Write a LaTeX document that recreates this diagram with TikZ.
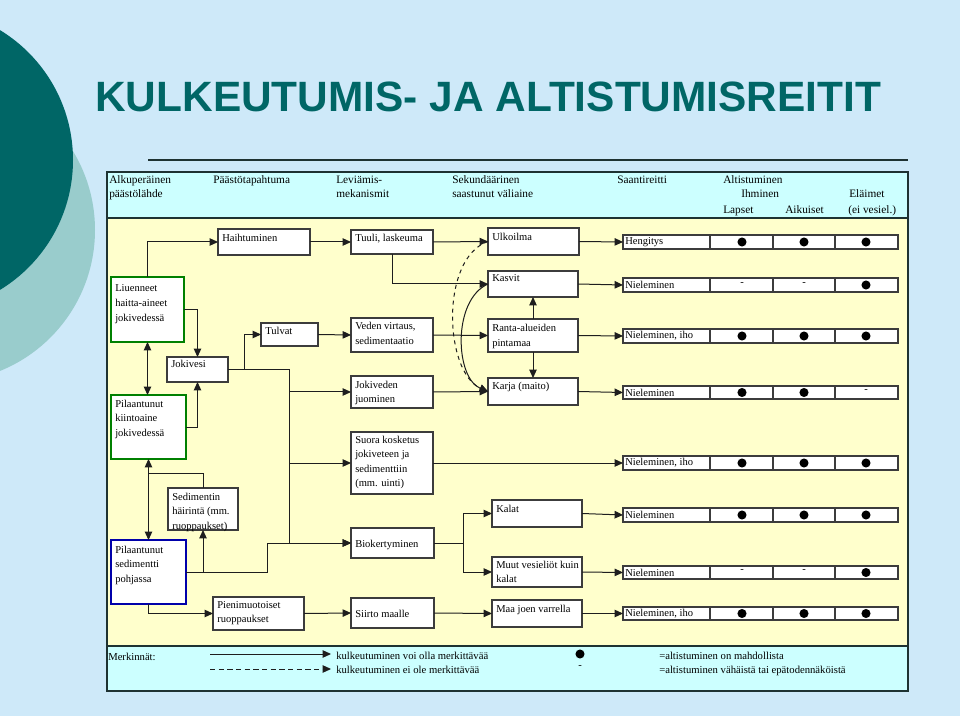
\documentclass[tikz,border=0pt]{standalone}
\usepackage{fontspec}
\setmainfont{Liberation Serif}
\newfontfamily\titlefont{Liberation Sans}
\usetikzlibrary{arrows.meta,fit,calc}
\definecolor{pagebg}{RGB}{206,233,249}
\definecolor{hdrc}{RGB}{204,255,255}
\definecolor{bodyc}{RGB}{255,255,204}
\definecolor{darkteal}{RGB}{0,102,102}
\definecolor{lightteal}{RGB}{153,204,204}
\definecolor{boxc}{RGB}{60,60,60}
\definecolor{linec}{RGB}{30,30,30}
\definecolor{greenb}{RGB}{0,128,0}
\definecolor{blueb}{RGB}{0,0,170}
\definecolor{framec}{RGB}{30,50,50}
\tikzset{
  boxst/.style={draw=boxc, fill=white, line width=0.9pt, inner sep=0pt, outer sep=0pt},
  greenbox/.style={draw=greenb, line width=1.5pt},
  bluebox/.style={draw=blueb, line width=1.5pt},
  txt/.style={inner sep=0pt, font=\fontsize{7.9}{10.9}\selectfont},
  hdrtxt/.style={inner sep=0pt, anchor=base west, font=\fontsize{8.5}{10}\selectfont},
  legtxt/.style={inner sep=0pt, anchor=base west, font=\fontsize{8}{10}\selectfont},
  ln/.style={draw=linec, line width=0.75pt},
  arr/.style={ln, -{Triangle[length=6.3pt,width=5.6pt]}},
  darr/.style={ln, {Triangle[length=6.3pt,width=5.6pt]}-{Triangle[length=6.3pt,width=5.6pt]}},
  framest/.style={draw=framec, line width=1pt, inner sep=0pt, outer sep=0pt},
}
\newcommand\bxt[1]{\begin{tabular}[t]{@{}l@{}}#1\end{tabular}}
\newcommand\bx[8][]{%
  \node[boxst,#1,fit={(#3,#4)(#5,#6)}] (#2) {};
  \node[txt,anchor=base west] (#2-t) at ({#3+4},{#4+#7}) {\bxt{#8}};}
\newcommand\rw[4]{%
  \node[boxst,fit={(623,#2)(898,#3)}] (#1) {};
  \node[txt,anchor=west] (#1-t) at ([xshift=1.5pt]#1.west) {#4};
  \foreach \xx in {710,773,835} \draw[boxc, line width=1.1pt] (\xx,#2) -- (\xx,#3);}
\newcommand\dt[2]{\fill[black] (#1,#2) circle[radius=3.4pt];}
\newcommand\ds[3]{\node[txt,anchor=center] (#1) at (#2,{#3-1}) {-};}
\begin{document}
\begin{tikzpicture}[x=0.75pt,y=-0.75pt]
\useasboundingbox (0,0) rectangle (960,716);
\fill[pagebg] (0,0) rectangle (960,716);
\begin{scope}
  \clip (0,0) rectangle (960,716);
  \fill[lightteal] (-57,230) circle[radius=114pt];
  \fill[darkteal] (-79,160) circle[radius=114pt];
\end{scope}
% title
\node[inner sep=0pt, anchor=base west, text=darkteal, font=\titlefont\bfseries\fontsize{31.8}{36}\selectfont] (title) at (95,112) {KULKEUTUMIS- JA ALTISTUMISREITIT};
\coordinate (hl1) at (148,160);
\coordinate (hl2) at (908,160);
\draw[framec, line width=1.6pt] (hl1) -- (hl2);
% frame
\node[framest, fill=hdrc, fit={(107,172)(908,218)}] (hdr) {};
\node[framest, fill=bodyc, fit={(107,218)(908,646)}] (body) {};
\node[framest, fill=hdrc, fit={(107,646)(908,691)}] (leg) {};
\draw[framec, line width=1.6pt] (hdr.north west) -- (hdr.north east);
% header texts
\node[hdrtxt] (h1) at (109,184) {Alkuperäinen};
\node[hdrtxt] (h2) at (109,198) {päästölähde};
\node[hdrtxt] (h3) at (213,184) {Päästötapahtuma};
\node[hdrtxt] (h4) at (336,184) {Leviämis-};
\node[hdrtxt] (h5) at (336,198) {mekanismit};
\node[hdrtxt] (h6) at (452,184) {Sekundäärinen};
\node[hdrtxt] (h7) at (452,198) {saastunut väliaine};
\node[hdrtxt] (h8) at (617,184) {Saantireitti};
\node[hdrtxt] (h9) at (723,184) {Altistuminen};
\node[hdrtxt] (h10) at (741,198) {Ihminen};
\node[hdrtxt] (h11) at (849,198) {Eläimet};
\node[hdrtxt] (h12) at (723,214) {Lapset};
\node[hdrtxt] (h13) at (785,214) {Aikuiset};
\node[hdrtxt] (h14) at (848,214) {(ei vesiel.)};
% boxes
\bx{haiht}{218}{229}{310}{255}{13}{Haihtuminen}
\bx{tuuli}{351}{230}{433}{254}{12}{Tuuli, laskeuma}
\bx{ulk}{488}{228}{579}{255}{13}{Ulkoilma}
\bx[greenbox]{liu}{111}{277}{184}{342}{15}{Liuenneet\\haitta-aineet\\jokivedessä}
\bx{tulvat}{261}{323}{318}{346}{12}{Tulvat}
\bx{veden}{351}{318}{433}{352}{12}{Veden virtaus,\\sedimentaatio}
\bx{kasvit}{488}{271}{578}{297}{11}{Kasvit}
\bx{ranta}{488}{319}{578}{352}{13}{Ranta-alueiden\\pintamaa}
\bx{jok}{167}{357}{228}{382}{11}{Jokivesi}
\bx[greenbox]{pkt}{111}{395}{186}{459}{12}{Pilaantunut\\kiintoaine\\jokivedessä}
\bx{jjuo}{351}{376}{433}{408}{12}{Jokiveden\\juominen}
\bx{karja}{488}{378}{578}{405}{12}{Karja (maito)}
\bx{suora}{351}{432}{433}{494}{11}{Suora kosketus\\jokiveteen ja\\sedimenttiin\\(mm. uinti)}
\bx{sed}{168}{488}{238}{530}{12}{Sedimentin\\häirintä (mm.\\ruoppaukset)}
\bx{kalat}{492}{500}{582}{527}{12}{Kalat}
\bx[bluebox]{psed}{111}{540}{186}{604}{13}{Pilaantunut\\sedimentti\\pohjassa}
\bx{bio}{351}{528}{434}{558}{19}{Biokertyminen}
\bx{muut}{492}{557}{582}{587}{11}{Muut vesieliöt kuin\\kalat}
\bx{pien}{213}{597}{304}{630}{11}{Pienimuotoiset\\ruoppaukset}
\bx{siirto}{351}{598}{434}{628}{19}{Siirto maalle}
\bx{maa}{492}{600}{582}{627}{12}{Maa joen varrella}
% table rows
\rw{r1}{235}{249}{Hengitys}
\dt{742}{242}\dt{804}{242}\dt{866}{242}
\rw{r2}{278}{292}{Nieleminen}
\ds{d21}{742}{285}\ds{d22}{804}{285}\dt{866}{285}
\rw{r3}{329}{343}{Nieleminen, iho}
\dt{742}{336}\dt{804}{336}\dt{866}{336}
\rw{r4}{386}{399}{Nieleminen}
\dt{742}{392.5}\dt{804}{392.5}\ds{d43}{866}{392.5}
\rw{r5}{456}{470}{Nieleminen, iho}
\dt{742}{463}\dt{804}{463}\dt{866}{463}
\rw{r6}{508}{522}{Nieleminen}
\dt{742}{515}\dt{804}{515}\dt{866}{515}
\rw{r7}{566}{579}{Nieleminen}
\ds{d71}{742}{572.5}\ds{d72}{804}{572.5}\dt{866}{572.5}
\rw{r8}{607}{620}{Nieleminen, iho}
\dt{742}{613.5}\dt{804}{613.5}\dt{866}{613.5}
% coordinates
\coordinate (trunk) at (289,369.5);
\coordinate (tb) at (244,369.5);
\coordinate (bb) at (463,543);
% connectors
\draw[arr] (liu.north) |- (haiht.west);
\draw[arr] (haiht.east) -- (tuuli.west);
\draw[arr] (tuuli.east) -- (ulk.west);
\draw[arr] (tuuli.south) |- (kasvit.west);
\draw[arr] (ulk.east) -- (r1.west);
\draw[arr] (kasvit.east) -- (r2.west);
\draw[arr] (ranta.east) -- (r3.west);
\draw[arr] (ranta.north) -- (kasvit.south);
\draw[arr] (ranta.south) -- (karja.north);
\draw[arr] (veden.east) -- (ranta.west);
\draw[arr] (tulvat.east) -- (veden.west);
\draw[arr] (jjuo.east) -- (karja.west);
\draw[arr] (karja.east) -- (r4.west);
\draw[arr] (suora.east) -- (r5.west);
\draw[arr] (kalat.east) -- (r6.west);
\draw[arr] (muut.east) -- (r7.west);
\draw[arr] (maa.east) -- (r8.west);
\draw[arr] (siirto.east) -- (maa.west);
\draw[arr] (pien.east) -- (siirto.west);
\draw[arr] (psed.south) |- (pien.west);
\draw[ln] (bio.east) -- (bb);
\draw[arr] (bb) |- (kalat.west);
\draw[arr] (bb) |- (muut.west);
\draw[darr] (liu.south) -- (liu.south |- pkt.north);
\draw[darr] (pkt.south) -- (pkt.south |- psed.north);
\draw[arr] (liu.east) -| (jok.north);
\draw[arr] (pkt.east) -| (jok.south);
\draw[ln] (sed.north) |- ([yshift=-10.5pt]pkt.south);
\draw[arr] (psed.east) -| (sed.south);
\draw[arr] (psed.east) -- ++(81,0) |- (bio.west);
\draw[ln] (jok.east) -- (trunk);
\draw[arr] (trunk) |- (bio.west);
\draw[arr] (trunk |- jjuo.west) -- (jjuo.west);
\draw[arr] (trunk |- suora.west) -- (suora.west);
\draw[arr] (tb) |- (tulvat.west);
\draw[arr] (kasvit.west) .. controls (452,300) and (455,378) .. (karja.west);
\draw[arr, dashed] (ulk.west) .. controls (440,258) and (444,372) .. (karja.west);
% legend
\node[legtxt] (mk) at (108,660) {Merkinnät:};
\coordinate (l1a) at (210,654);
\coordinate (l1b) at (331,654);
\coordinate (l2a) at (210,669);
\coordinate (l2b) at (331,669);
\draw[arr] (l1a) -- (l1b);
\draw[arr, dashed, dash pattern=on 4pt off 2.5pt] (l2a) -- (l2b);
\node[legtxt] (lt1) at (336,659) {kulkeutuminen voi olla merkittävää};
\node[legtxt] (lt2) at (336,673) {kulkeutuminen ei ole merkittävää};
\fill[black] (580,654) circle[radius=3.4pt];
\node[txt,anchor=center] (ldash) at (580,667) {-};
\node[legtxt] (lt3) at (659,659) {=altistuminen on mahdollista};
\node[legtxt] (lt4) at (659,673) {=altistuminen vähäistä tai epätodennäköistä};
\end{tikzpicture}
\end{document}
